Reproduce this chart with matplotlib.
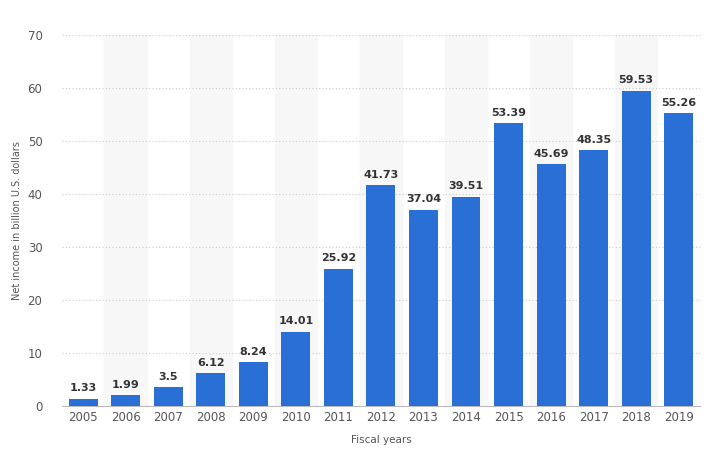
import numpy as np
import matplotlib.pyplot as plt

years = ["2005", "2006", "2007", "2008", "2009", "2010", "2011", "2012",
         "2013", "2014", "2015", "2016", "2017", "2018", "2019"]
net_income = [1.33, 1.99, 3.5, 6.12, 8.24, 14.01, 25.92, 41.73,
              37.04, 39.51, 53.39, 45.69, 48.35, 59.53, 55.26]
value_labels = ["1.33", "1.99", "3.5", "6.12", "8.24", "14.01", "25.92", "41.73",
                "37.04", "39.51", "53.39", "45.69", "48.35", "59.53", "55.26"]

fig = plt.figure(figsize=(7.12, 4.57), dpi=100)
ax = fig.add_axes([0.087, 0.112, 0.896, 0.811])

x = np.arange(len(years))
# faint alternating column bands
for i in x:
    if i % 2 == 1:
        ax.axvspan(i - 0.5, i + 0.5, color="#f7f7f7", zorder=0)

ax.bar(x, net_income, width=0.68, color="#2a6fd6", zorder=3)
for xi, v, lab in zip(x, net_income, value_labels):
    ax.text(xi, v + 1.0, lab, ha="center", va="bottom", fontsize=8,
            color="#333333", fontweight="bold", zorder=4)

ax.set_xlim(-0.5, len(years) - 0.5)
ax.set_ylim(0, 70)
ax.set_yticks(range(0, 71, 10))
ax.set_xticks(x)
ax.set_xticklabels(years)
ax.yaxis.grid(True, linestyle=(0, (1, 2)), color="#cccccc", zorder=1)
ax.tick_params(axis="both", length=0, labelsize=8.5, colors="#555555")
ax.tick_params(axis="y", pad=14)
for s in ax.spines.values():
    s.set_visible(False)
ax.spines["bottom"].set_visible(True)
ax.spines["bottom"].set_color("#bbbbbb")

ax.set_xlabel("Fiscal years", fontsize=7.5, color="#555555", labelpad=8)
ax.set_ylabel("Net income in billion U.S. dollars", fontsize=7, color="#555555", labelpad=4)

fig.savefig("out.png", dpi=100)
